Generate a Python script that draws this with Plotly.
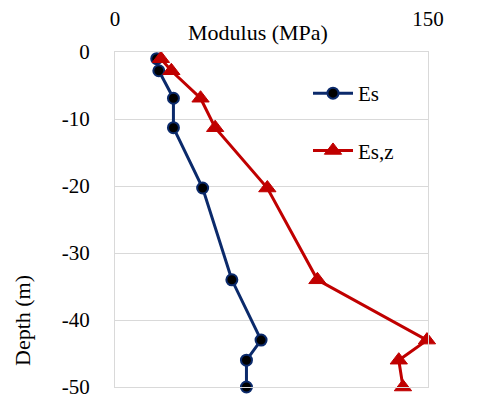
import plotly.graph_objects as go

depth = [-1.0, -2.8, -6.9, -11.3, -20.3, -34.0, -43.0, -46.0, -50.0]
es = [20, 21, 28, 28, 42, 56, 70, 63, 63]
esz = [22, 27, 41, 48, 73, 97, 149.5, 136, 138]

y_tickvals = [0, -10, -20, -30, -40, -50]
y_ticktext = ["0", "-10", "-20", "-30", "-40", "-50"]
x_tickvals = [0, 150]
x_ticktext = ["0", "150"]

FONT = "Liberation Serif, Times New Roman, serif"
NAVY = "#0B2A6B"
RED = "#C00000"

# page body has an 8px margin, so plot-area pixel targets are shifted by 8
OFF = 8
PL, PR, PT, PB = 115 - OFF, 428 - OFF, 52 - OFF, 387 - OFF
W, H = 482, 396
PW, PH = PR - PL, PB - PT


def px(x):
    return (x - OFF - PL) / PW


def py(y):
    return (PB - (y - OFF)) / PH


fig = go.Figure()
fig.add_trace(go.Scatter(
    x=es, y=depth, name="Es", mode="lines+markers", legendgroup="a",
    line=dict(color=NAVY, width=3),
    marker=dict(symbol="circle", size=11, color="black", line=dict(color=NAVY, width=2)),
    cliponaxis=False,
))
fig.add_trace(go.Scatter(
    x=esz, y=depth, name="Es,z", mode="lines+markers", legendgroup="b",
    line=dict(color=RED, width=3),
    marker=dict(symbol="triangle-up", size=15, color=RED, line=dict(color=RED, width=1)),
    cliponaxis=False,
))

fig.update_layout(
    width=W, height=H,
    margin=dict(l=PL, r=W - PR, t=PT, b=H - PB, autoexpand=False),
    paper_bgcolor="white", plot_bgcolor="white",
    font=dict(family=FONT, size=21, color="black"),
    showlegend=True,
    legend=dict(x=px(308), y=py(73), xanchor="left", yanchor="top",
                bgcolor="rgba(0,0,0,0)", tracegroupgap=27,
                traceorder="grouped", font=dict(family=FONT, size=21),
                itemwidth=40),
    xaxis=dict(side="top", range=[0, 150], tickvals=x_tickvals, ticktext=x_ticktext,
               showgrid=True, gridcolor="#D9D9D9", gridwidth=1,
               zeroline=False, showline=True, linecolor="#D9D9D9", mirror=True,
               ticks="", ticklabelstandoff=17, automargin=False),
    yaxis=dict(range=[-50, 0], tickvals=y_tickvals, ticktext=y_ticktext,
               showgrid=True, gridcolor="#D9D9D9", gridwidth=1,
               zeroline=False, showline=True, linecolor="#D9D9D9", mirror=True,
               ticks="", ticklabelstandoff=20, automargin=False),
    annotations=[
        dict(text="Modulus (MPa)", xref="paper", yref="paper",
             x=px(258), y=py(32), xanchor="center", yanchor="middle",
             showarrow=False, font=dict(family=FONT, size=22)),
        dict(text="Depth (m)", xref="paper", yref="paper", textangle=-90,
             x=px(22), y=py(321), xanchor="center", yanchor="middle",
             showarrow=False, font=dict(family=FONT, size=22)),
    ],
    shapes=[
        dict(type="rect", xref="paper", yref="paper",
             x0=px(5), x1=px(500), y0=py(410), y1=py(7),
             line=dict(color="#D9D9D9", width=1.5), layer="below"),
    ],
)

fig.write_html("out.html")
